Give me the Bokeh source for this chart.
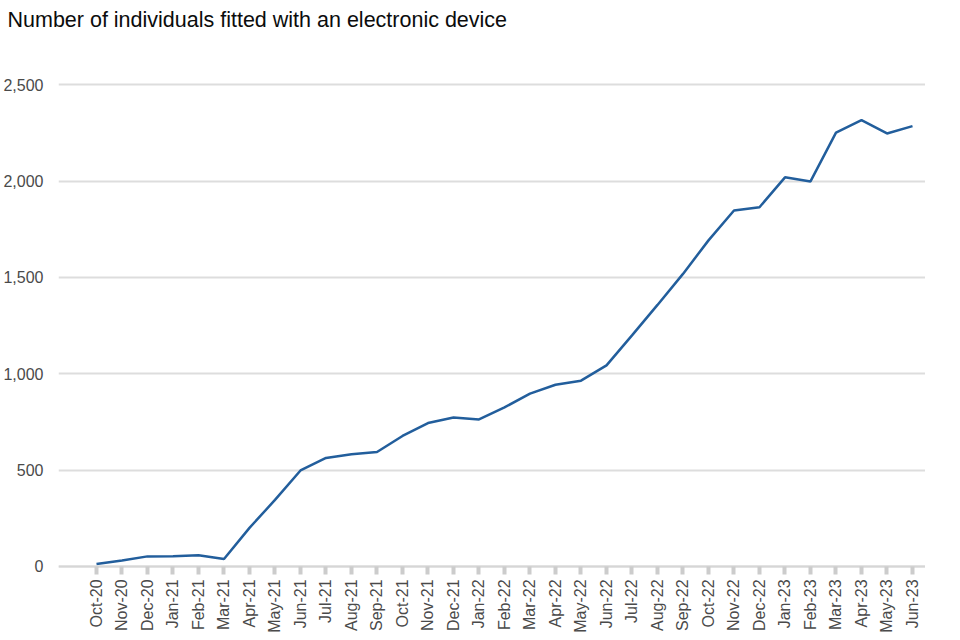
from math import pi
from bokeh.plotting import figure
from bokeh.models import Range1d, FixedTicker, NumeralTickFormatter
from bokeh.embed import file_html
from bokeh.resources import INLINE

months = ["Oct-20", "Nov-20", "Dec-20", "Jan-21", "Feb-21", "Mar-21", "Apr-21",
          "May-21", "Jun-21", "Jul-21", "Aug-21", "Sep-21", "Oct-21", "Nov-21",
          "Dec-21", "Jan-22", "Feb-22", "Mar-22", "Apr-22", "May-22", "Jun-22",
          "Jul-22", "Aug-22", "Sep-22", "Oct-22", "Nov-22", "Dec-22", "Jan-23",
          "Feb-23", "Mar-23", "Apr-23", "May-23", "Jun-23"]
individuals = [12, 31, 52, 53, 58, 38, 200, 345, 498, 563, 582, 594, 677, 744,
               773, 763, 825, 897, 943, 964, 1043, 1199, 1357, 1518, 1692, 1847,
               1864, 2019, 1998, 2251, 2316, 2247, 2285]
y_ticks = [0, 500, 1000, 1500, 2000, 2500]
title_text = "Number of individuals fitted with an electronic device"

FONT = "Liberation Sans"
idx = list(range(len(months)))

p = figure(height=632, frame_width=867, output_backend="svg", toolbar_location=None,
           x_range=Range1d(-1.49, 32.51), y_range=Range1d(-343, 2750),
           min_border_left=49, min_border_right=0, min_border_top=0,
           min_border_bottom=0)
p.title.text = title_text
p.title.text_font = FONT
p.title.text_font_size = "21.5px"
p.title.text_font_style = "normal"
p.title.text_color = "#0b0c0c"
p.title.align = "left"
p.title.offset = -51
p.title.text_line_height = 1.0

p.line(idx, individuals, line_color="#225e9c", line_width=2.5)

p.outline_line_color = None
p.xgrid.grid_line_color = None
p.ygrid.grid_line_color = "#dddddd"
p.ygrid.grid_line_width = 2

p.yaxis.ticker = FixedTicker(ticks=y_ticks)
p.yaxis.formatter = NumeralTickFormatter(format="0,0")
p.yaxis.axis_line_color = None
p.yaxis.major_tick_line_color = None
p.yaxis.minor_tick_line_color = None
p.yaxis.major_label_text_font = FONT
p.yaxis.major_label_text_font_size = "16px"
p.yaxis.major_label_text_color = "#4a4a4a"
p.yaxis.major_label_standoff = 9
p.yaxis.axis_label = None

p.xaxis.fixed_location = 0
p.xaxis.ticker = FixedTicker(ticks=idx)
p.xaxis.major_label_overrides = {i: m for i, m in zip(idx, months)}
p.xaxis.major_label_orientation = pi / 2
p.xaxis.axis_line_color = "#d6d6d6"
p.xaxis.axis_line_width = 2
p.xaxis.major_tick_line_color = "#cccccc"
p.xaxis.major_tick_line_width = 4
p.xaxis.major_tick_in = 0
p.xaxis.major_tick_out = 8
p.xaxis.minor_tick_line_color = None
p.xaxis.major_label_text_font = FONT
p.xaxis.major_label_text_font_size = "16px"
p.xaxis.major_label_text_color = "#4a4a4a"
p.xaxis.major_label_standoff = 5
p.xaxis.axis_label = None

open("out.html", "w").write(file_html(p, INLINE))
